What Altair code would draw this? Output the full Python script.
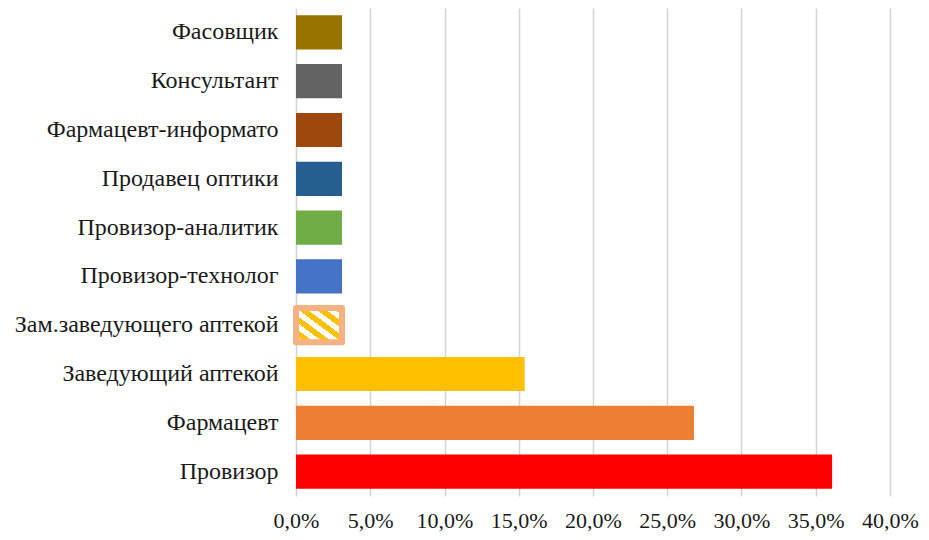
import altair as alt
import pandas as pd

categories = [
    "Фасовщик", "Консультант", "Фармацевт-информато", "Продавец оптики",
    "Провизор-аналитик", "Провизор-технолог", "Зам.заведующего аптекой",
    "Заведующий аптекой", "Фармацевт", "Провизор",
]
values = [0.031, 0.031, 0.031, 0.031, 0.031, 0.031, 0.031, 0.154, 0.268, 0.361]
colors = ["#997300", "#636363", "#9E480E", "#255E91", "#70AD47", "#4472C4",
          "#FFC000", "#FFC000", "#ED7D31", "#FF0000"]
tick_values = [0, 0.05, 0.10, 0.15, 0.20, 0.25, 0.30, 0.35, 0.40]

df = pd.DataFrame({"cat": categories, "val": values})
hatched = "Зам.заведующего аптекой"

# diagonal stripe gradient to imitate hatch pattern
n = 5
frac = 0.5
stops = []
for k in range(n):
    a = k / n
    b = a + frac / n
    c = (k + 1) / n
    stops += [
        {"offset": a, "color": "#FFFFFF"},
        {"offset": b, "color": "#FFFFFF"},
        {"offset": b, "color": "#FFC000"},
        {"offset": c, "color": "#FFC000"},
    ]
grad = {"gradient": "linear", "x1": 0, "y1": 1, "x2": 1, "y2": 0, "stops": stops}

x_enc = alt.X(
    "val:Q",
    scale=alt.Scale(domain=[0, 0.4], nice=False),
    axis=alt.Axis(
        values=tick_values,
        labelExpr="replace(format(datum.value, '.1%'), '.', ',')",
        title=None, domain=False, ticks=False, grid=True,
        gridColor="#D4D4D4", gridWidth=1.5, labelOverlap=False, labelFlush=False,
        labelFont="Liberation Serif", labelFontSize=22, labelColor="#1a1a1a",
        labelPadding=14,
    ),
)
y_enc = alt.Y(
    "cat:N",
    sort=categories,
    scale=alt.Scale(paddingInner=0.3, paddingOuter=0.15),
    axis=alt.Axis(
        title=None, domain=False, ticks=False, grid=False,
        labelFont="Liberation Serif", labelFontSize=24, labelColor="#1a1a1a",
        labelPadding=18, labelLimit=300,
    ),
)

base = alt.Chart(df)
bars = base.transform_filter(alt.datum.cat != hatched).mark_bar().encode(
    x=x_enc, y=y_enc,
    color=alt.Color("cat:N", scale=alt.Scale(domain=categories, range=colors), legend=None),
)
hatch = base.transform_filter(alt.datum.cat == hatched).mark_bar(
    fill=grad, stroke="#F4B183", strokeWidth=6, strokeJoin="round"
).encode(x=x_enc, y=y_enc)

chart = alt.layer(bars, hatch).properties(
    width=594, height=488,
    autosize=alt.AutoSizeParams(type="none"),
    padding={"left": 288, "top": 0, "right": 31, "bottom": 40},
).configure_view(stroke=None)

chart.save("out.html", embed_options={"renderer": "svg", "actions": False})
